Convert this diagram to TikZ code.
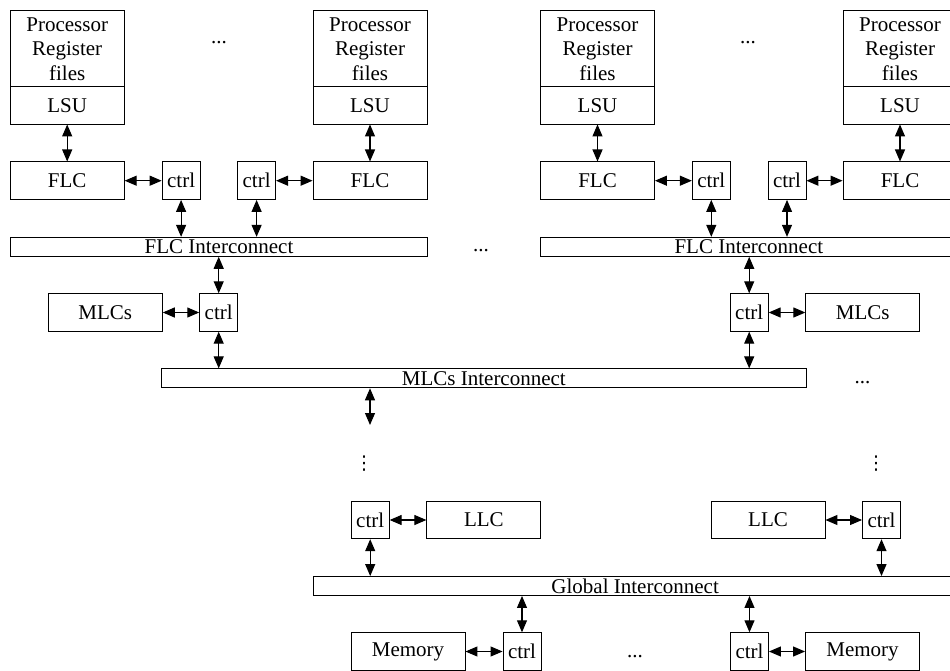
\documentclass[tikz,border=0pt]{standalone}
\usepackage{fontspec}
\setmainfont{Liberation Serif}
\newfontfamily\symfont{DejaVu Sans}
\usetikzlibrary{arrows.meta}
\begin{document}
\begin{tikzpicture}[x=1pt,y=-1pt,
  txt/.style={font=\fontsize{21}{24.5}\selectfont},
  box/.style={txt, draw=black, line width=0.9pt, inner sep=0pt, minimum width=114pt, minimum height=37.5pt},
  ctrlbox/.style={box, minimum width=38pt},
  procbox/.style={box, minimum height=75.7pt, align=center},
  lsubox/.style={box, minimum height=37.3pt},
  icbox/.style={txt, draw=black, line width=0.9pt, inner sep=0pt, minimum height=19pt},
  conn/.style={line width=1.1pt, {Triangle[length=12pt,width=10pt]}-{Triangle[length=12pt,width=10pt]}},
  hdots/.style={txt, inner sep=0pt},
  vdotsnode/.style={font=\symfont\fontsize{19}{19}\selectfont, inner sep=0pt}
]
\useasboundingbox (0,0) rectangle (950,671);
\clip (0,0) rectangle (950,671);

% processors
\foreach \i/\x in {1/67.2, 2/370, 3/597.5, 4/900} {
  \node[procbox] (proc\i) at (\x,48.8) {Processor\\Register\\files};
  \node[lsubox] (lsu\i) at (\x,105.35) {LSU};
  \node[box] (flc\i) at (\x,180.7) {FLC};
  \draw[conn] (lsu\i.south) -- (flc\i.north);
}

% top ctrl
\node[ctrlbox] (c1) at (181.1,180.7) {ctrl};
\node[ctrlbox] (c2) at (256.6,180.7) {ctrl};
\node[ctrlbox] (c3) at (711.3,180.7) {ctrl};
\node[ctrlbox] (c4) at (787,180.7) {ctrl};

% FLC interconnects
\node[icbox, minimum width=417.4pt] (ic1) at (219,246.8) {FLC Interconnect};
\node[icbox, minimum width=416.3pt] (ic2) at (748.85,246.8) {FLC Interconnect};

\draw[conn] (flc1.east) -- (c1.west);
\draw[conn] (c2.east) -- (flc2.west);
\draw[conn] (flc3.east) -- (c3.west);
\draw[conn] (c4.east) -- (flc4.west);
\foreach \c/\ic in {c1/ic1, c2/ic1, c3/ic2, c4/ic2}
  \draw[conn] (\c.south) -- (\c.south |- \ic.north);

% dots top
\node[hdots] (d1) at (219,43) {...};
\node[hdots] (d2) at (748,43) {...};
\node[hdots] (d3) at (481,251) {...};

% MLC level
\node[ctrlbox] (mc1) at (218.7,312.5) {ctrl};
\node[box] (mlc1) at (105.3,312.5) {MLCs};
\node[ctrlbox] (mc2) at (749.2,312.5) {ctrl};
\node[box] (mlc2) at (862.8,312.5) {MLCs};
\node[icbox, minimum width=644.3pt] (mic) at (483.85,378.35) {MLCs Interconnect};
\node[hdots] (d4) at (862.5,383) {...};

\draw[conn] (mlc1.east) -- (mc1.west);
\draw[conn] (mc2.east) -- (mlc2.west);
\draw[conn] (mc1.north |- ic1.south) -- (mc1.north);
\draw[conn] (mc2.north |- ic2.south) -- (mc2.north);
\draw[conn] (mc1.south) -- (mc1.south |- mic.north);
\draw[conn] (mc2.south) -- (mc2.south |- mic.north);
\coordinate (mend) at (370,425);
\draw[conn] (mend |- mic.south) -- (mend);

% vertical dots
\node[vdotsnode] (v1) at (364,464) {⋮};
\node[vdotsnode] (v2) at (876,464) {⋮};

% LLC level
\node[ctrlbox] (lc1) at (370.2,520) {ctrl};
\node[box] (llc1) at (483.85,520) {LLC};
\node[box] (llc2) at (768,520) {LLC};
\node[ctrlbox] (lc2) at (881.5,520) {ctrl};
\node[icbox, minimum width=643.7pt] (gic) at (635.15,586) {Global Interconnect};

\draw[conn] (lc1.east) -- (llc1.west);
\draw[conn] (llc2.east) -- (lc2.west);
\draw[conn] (lc1.south) -- (lc1.south |- gic.north);
\draw[conn] (lc2.south) -- (lc2.south |- gic.north);

% memory level
\node[box] (mem1) at (408,651.5) {Memory};
\node[ctrlbox] (mmc1) at (522,651.5) {ctrl};
\node[ctrlbox] (mmc2) at (749.5,651.5) {ctrl};
\node[box] (mem2) at (862.5,651.5) {Memory};
\node[hdots] (d5) at (635,657) {...};

\draw[conn] (mem1.east) -- (mmc1.west);
\draw[conn] (mmc2.east) -- (mem2.west);
\draw[conn] (mmc1.north |- gic.south) -- (mmc1.north);
\draw[conn] (mmc2.north |- gic.south) -- (mmc2.north);
\end{tikzpicture}
\end{document}
